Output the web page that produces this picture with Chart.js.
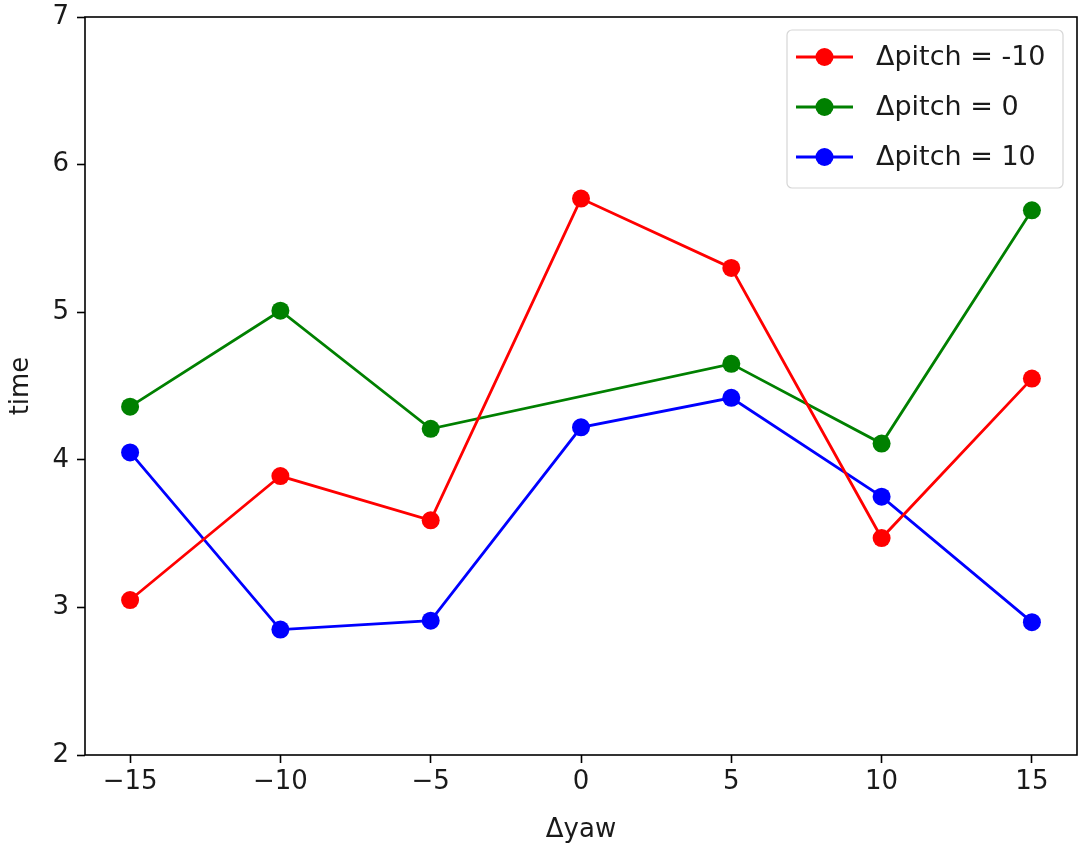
<!DOCTYPE html>
<html>
<head>
<meta charset="UTF-8">
<title>time vs Δyaw</title>
<style>
    body { margin: 0; padding: 0; background: #ffffff; }
    .chart-container { width: 1092px; height: 860px; position: relative; }
</style>
</head>
<body>
<div class="chart-container">
    <canvas id="timeChart"></canvas>
</div>
<script src="https://cdn.jsdelivr.net/npm/chart.js"></script>
<script>
    // Datos
    const yawValues = [-15, -10, -5, 0, 5, 10, 15];
    const pitchMinus10 = [3.05, 3.89, 3.59, 5.77, 5.30, 3.47, 4.55];
    const pitchZero = [4.36, 5.01, 4.21, null, 4.65, 4.11, 5.69];
    const pitchPlus10 = [4.05, 2.85, 2.91, 4.22, 4.42, 3.75, 2.90];
    const seriesLabels = ['Δpitch = -10', 'Δpitch = 0', 'Δpitch = 10'];
    const seriesColors = ['#ff0000', '#008000', '#0000ff'];
    const xTicks = [-15, -10, -5, 0, 5, 10, 15];
    const yTicks = [2, 3, 4, 5, 6, 7];

    const FONT = "'DejaVu Sans', sans-serif";
    const FS = 26;

    function toPoints(values) {
        return yawValues.map((x, i) => ({ x: x, y: values[i] }));
    }

    const allSeries = [pitchMinus10, pitchZero, pitchPlus10];
    const datasets = allSeries.map((vals, i) => ({
        label: seriesLabels[i],
        data: toPoints(vals),
        borderColor: seriesColors[i],
        backgroundColor: seriesColors[i],
        borderWidth: 2.8,
        pointRadius: 9,
        pointHoverRadius: 9,
        pointBorderWidth: 0,
        spanGaps: true,
        tension: 0
    }));

    // Marco del área del gráfico y leyenda estilo matplotlib
    const framePlugin = {
        id: 'frame',
        afterDraw(chart) {
            const { ctx, chartArea: a } = chart;
            ctx.save();
            ctx.strokeStyle = '#000';
            ctx.lineWidth = 1.6;
            ctx.strokeRect(a.left, a.top, a.right - a.left, a.bottom - a.top);

            // leyenda
            const bx = 787, by = 30, bw = 276, bh = 158;
            ctx.fillStyle = 'rgba(255,255,255,0.8)';
            ctx.strokeStyle = '#d6d6d6';
            ctx.lineWidth = 1.2;
            ctx.beginPath();
            ctx.roundRect(bx, by, bw, bh, 5);
            ctx.fill();
            ctx.stroke();
            ctx.font = '27px ' + FONT;
            ctx.textBaseline = 'middle';
            ctx.textAlign = 'left';
            seriesLabels.forEach((lab, i) => {
                const cy = 57 + i * 50;
                ctx.strokeStyle = seriesColors[i];
                ctx.lineWidth = 2.8;
                ctx.beginPath();
                ctx.moveTo(796, cy);
                ctx.lineTo(853, cy);
                ctx.stroke();
                ctx.fillStyle = seriesColors[i];
                ctx.beginPath();
                ctx.arc(824.5, cy, 9, 0, Math.PI * 2);
                ctx.fill();
                ctx.fillStyle = '#1a1a1a';
                ctx.fillText(lab, 876, cy + 1);
            });
            ctx.restore();
        }
    };

    const ctx = document.getElementById('timeChart').getContext('2d');
    const timeChart = new Chart(ctx, {
        type: 'line',
        data: { datasets: datasets },
        options: {
            responsive: true,
            maintainAspectRatio: false,
            animation: false,
            layout: { padding: { top: 17, right: 15, left: 0, bottom: 0 } },
            plugins: {
                legend: { display: false },
                tooltip: { enabled: false }
            },
            scales: {
                x: {
                    type: 'linear',
                    min: -16.5,
                    max: 16.5,
                    afterBuildTicks: (axis) => { axis.ticks = xTicks.map(v => ({ value: v })); },
                    afterFit: (axis) => {
                        axis.height = 105;
                        axis.paddingLeft = 0;
                        axis.paddingRight = 0;
                    },
                    grid: { drawOnChartArea: false, tickLength: 8, color: '#000', tickWidth: 1.6 },
                    border: { display: false },
                    ticks: {
                        color: '#1a1a1a',
                        font: { family: FONT, size: FS },
                        padding: 4,
                        maxRotation: 0,
                        callback: (v) => String(v).replace('-', '\u2212')
                    },
                    title: {
                        display: true,
                        text: 'Δyaw',
                        color: '#1a1a1a',
                        font: { family: FONT, size: FS },
                        padding: { top: 4, bottom: 14 }
                    }
                },
                y: {
                    min: 2,
                    max: 7,
                    afterBuildTicks: (axis) => { axis.ticks = yTicks.map(v => ({ value: v })); },
                    afterFit: (axis) => {
                        axis.width = 85;
                        axis.paddingTop = 0;
                        axis.paddingBottom = 0;
                    },
                    grid: { drawOnChartArea: false, tickLength: 8, color: '#000', tickWidth: 1.6 },
                    border: { display: false },
                    ticks: {
                        color: '#1a1a1a',
                        font: { family: FONT, size: FS },
                        padding: 8
                    },
                    title: {
                        display: true,
                        text: 'time',
                        color: '#1a1a1a',
                        font: { family: FONT, size: FS },
                        padding: { top: 6, bottom: 4 }
                    }
                }
            }
        },
        plugins: [framePlugin]
    });
</script>
</body>
</html>
